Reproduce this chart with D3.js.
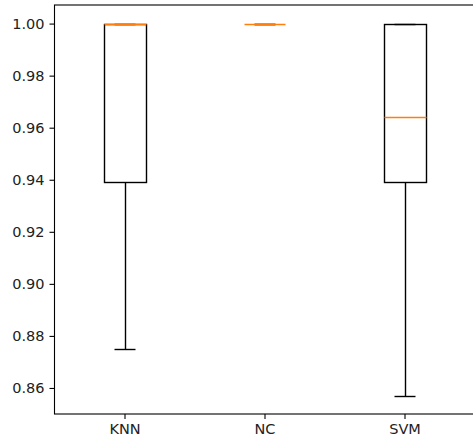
<!DOCTYPE html>
<html>
<head>
<meta charset="utf-8">
<script src="https://cdn.jsdelivr.net/npm/d3@7"></script>
<style>
  body { margin: 0; background: #fff; }
  svg { display: block; }
  text { font-family: "DejaVu Sans", sans-serif; }
</style>
</head>
<body>
<svg width="473" height="443"></svg>
<script>
// box statistics
var models = ['KNN', 'NC', 'SVM'];
var whiskerLow = [0.875, 1.0, 0.857];
var q1 = [0.939, 1.0, 0.939];
var median = [1.0, 1.0, 0.964];
var q3 = [1.0, 1.0, 1.0];
var whiskerHigh = [1.0, 1.0, 1.0];
var yTicks = [0.86, 0.88, 0.90, 0.92, 0.94, 0.96, 0.98, 1.00];

var svg = d3.select('svg');

// plot area (right spine sits just past the window edge)
var plot = {l: 54.5, r: 474.5, t: 5, b: 414};

var xScale = d3.scaleLinear().domain([0.5, 3.5]).range([plot.l, plot.r]);
var yScale = d3.scaleLinear().domain([0.85, 1.00714]).range([plot.b, plot.t]);

// snap to the pixel grid so thin lines stay crisp
function ys(v) { return Math.round(yScale(v)) + 0.5; }
function xs(v) { return Math.round(xScale(v)) + 0.5; }

var boxes = models.map(function(m, i) {
    return {name: m, pos: i + 1, lo: whiskerLow[i], q1: q1[i], med: median[i], q3: q3[i], hi: whiskerHigh[i]};
});

var boxHalf = 0.15;   // box width 0.3 in data units
var capHalf = 0.075;
var lw = 1.4;

var g = svg.append('g');

var box = g.selectAll('.box')
    .data(boxes)
    .enter()
    .append('g')
    .attr('class', 'box');

// whiskers
box.append('line')
    .attr('x1', function(d) { return xs(d.pos); })
    .attr('x2', function(d) { return xs(d.pos); })
    .attr('y1', function(d) { return ys(d.q1); })
    .attr('y2', function(d) { return ys(d.lo); })
    .attr('stroke', '#000').attr('stroke-width', lw);

box.append('line')
    .attr('x1', function(d) { return xs(d.pos); })
    .attr('x2', function(d) { return xs(d.pos); })
    .attr('y1', function(d) { return ys(d.q3); })
    .attr('y2', function(d) { return ys(d.hi); })
    .attr('stroke', '#000').attr('stroke-width', lw);

// caps
box.append('line')
    .attr('x1', function(d) { return xs(d.pos - capHalf); })
    .attr('x2', function(d) { return xs(d.pos + capHalf); })
    .attr('y1', function(d) { return ys(d.lo); })
    .attr('y2', function(d) { return ys(d.lo); })
    .attr('stroke', '#000').attr('stroke-width', lw);

box.append('line')
    .attr('x1', function(d) { return xs(d.pos - capHalf); })
    .attr('x2', function(d) { return xs(d.pos + capHalf); })
    .attr('y1', function(d) { return ys(d.hi); })
    .attr('y2', function(d) { return ys(d.hi); })
    .attr('stroke', '#000').attr('stroke-width', lw);

// the box itself
box.append('rect')
    .attr('x', function(d) { return xs(d.pos - boxHalf); })
    .attr('width', function(d) { return xs(d.pos + boxHalf) - xs(d.pos - boxHalf); })
    .attr('y', function(d) { return ys(d.q3); })
    .attr('height', function(d) { return ys(d.q1) - ys(d.q3); })
    .attr('fill', 'none')
    .attr('stroke', '#000').attr('stroke-width', lw);

// medians drawn on top of all boxes
g.selectAll('.median')
    .data(boxes)
    .enter()
    .append('line')
    .attr('class', 'median')
    .attr('x1', function(d) { return xs(d.pos - boxHalf); })
    .attr('x2', function(d) { return xs(d.pos + boxHalf); })
    .attr('y1', function(d) { return ys(d.med); })
    .attr('y2', function(d) { return ys(d.med); })
    .attr('stroke', '#ff7f0e').attr('stroke-width', 1.6);

// axes
var yAxis = d3.axisLeft(yScale)
    .tickValues(yTicks)
    .tickFormat(d3.format('.2f'))
    .tickSize(5)
    .tickPadding(5);

var xAxis = d3.axisBottom(xScale)
    .tickValues([1, 2, 3])
    .tickFormat(function(d) { return models[d - 1]; })
    .tickSize(5)
    .tickPadding(5);

var yG = svg.append('g')
    .attr('transform', 'translate(' + plot.l + ',0)')
    .call(yAxis);

var xG = svg.append('g')
    .attr('transform', 'translate(0,' + plot.b + ')')
    .call(xAxis);

[yG, xG].forEach(function(a) {
    a.select('.domain').remove();
    a.selectAll('.tick line').attr('stroke', '#000').attr('stroke-width', 1.1);
    a.selectAll('.tick text')
        .attr('fill', '#222')
        .attr('font-size', 14.5)
        .attr('font-family', '"DejaVu Sans", sans-serif');
});

// spines
svg.append('rect')
    .attr('x', plot.l)
    .attr('y', plot.t)
    .attr('width', plot.r - plot.l)
    .attr('height', plot.b - plot.t)
    .attr('fill', 'none')
    .attr('stroke', '#000')
    .attr('stroke-width', 1.1);
</script>
</body>
</html>
